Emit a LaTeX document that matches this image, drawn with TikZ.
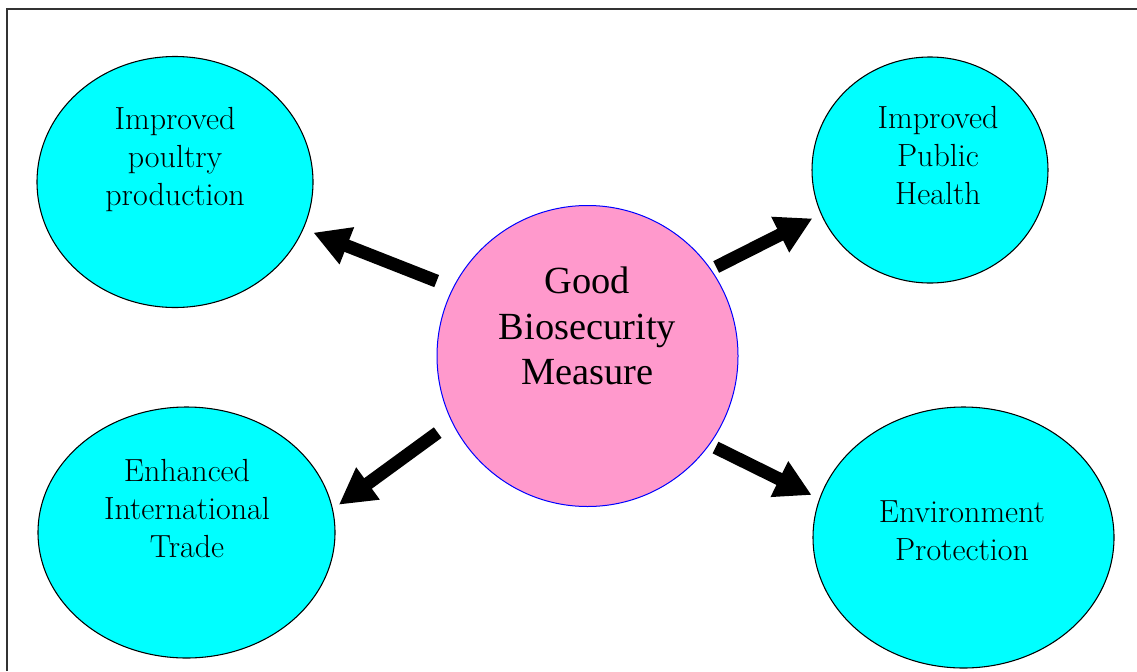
\documentclass[tikz,border=0pt]{standalone}
\usepackage{fontspec}
\newfontfamily\centerfont{Liberation Serif}
\usetikzlibrary{shapes.geometric,arrows.meta}
\definecolor{cyanfill}{HTML}{00FFFF}
\definecolor{pinkfill}{HTML}{FF99CC}
\definecolor{frameline}{HTML}{333333}
\begin{document}
\begin{tikzpicture}[x=0.75pt,y=-0.75pt,
  outer/.style={ellipse,draw=black,line width=0.8pt,fill=cyanfill,inner sep=0pt,outer sep=0pt},
  hub/.style={circle,draw=blue,line width=0.75pt,fill=pinkfill,inner sep=0pt,outer sep=0pt,minimum size=225.75pt},
  outertext/.style={align=center,font=\fontsize{24}{28.5}\selectfont,inner sep=0pt},
  hubtext/.style={align=center,font=\centerfont\fontsize{28.8}{34}\selectfont,inner sep=0pt},
  fatarrow/.style={line width=9.75pt,-{Triangle[length=27pt,width=28pt]}}]
\useasboundingbox (0,0) rectangle (1137,671);
\draw[frameline,line width=1.5pt] (7,671) -- (7,9) -- (1137,9);
% nodes
\node[outer,minimum width=207pt,minimum height=188.25pt] (tl) at (175,182) {};
\node[outer,minimum width=177pt,minimum height=169.5pt] (tr) at (930,170) {};
\node[outer,minimum width=222.75pt,minimum height=188.25pt] (bl) at (186.5,532.5) {};
\node[outer,minimum width=225.75pt,minimum height=195.75pt] (br) at (963.5,537.5) {};
\node[hub] (c) at (587.5,356) {};
% texts
\node[outertext] (tlt) at (175,160) {Improved\\poultry\\production};
\node[outertext] (trt) at (938,156) {Improved\\Public\\Health};
\node[outertext] (blt) at (187,509) {Enhanced\\International\\Trade};
\node[outertext] (brt) at (962,531) {Environment\\Protection};
\node[hubtext] (ct) at (587.5,326) {Good\\Biosecurity\\Measure};
% arrows
\draw[fatarrow,shorten <=13.5pt,shorten >=8.25pt] (c.153) -- (tl.-20);
\draw[fatarrow,shorten <=4.5pt,shorten >=7.5pt] (c.35) -- (tr.202);
\draw[fatarrow,shorten <=13.5pt,shorten >=6pt] (c.206) -- (bl.9);
\draw[fatarrow,shorten <=5.25pt,shorten >=6.75pt] (c.-36) -- (br.165);
\end{tikzpicture}
\end{document}
